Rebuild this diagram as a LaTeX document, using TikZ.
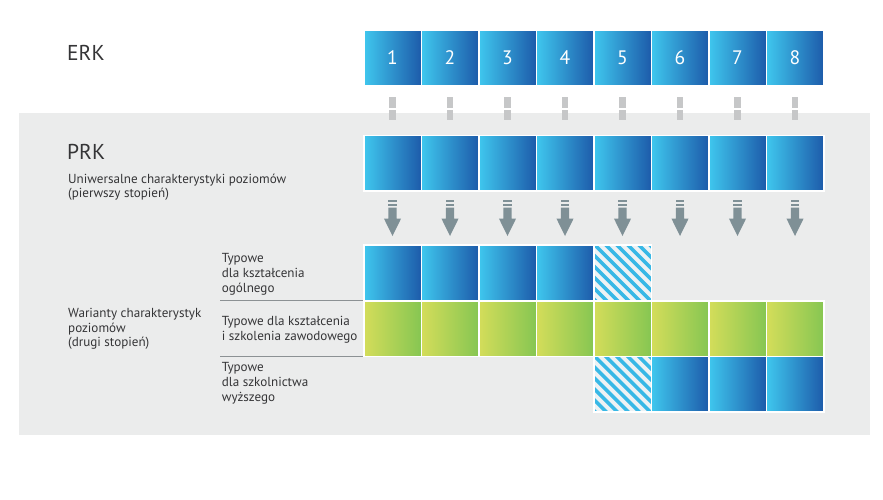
\documentclass[tikz,border=0pt]{standalone}
\usepackage{fontspec}
\setmainfont{PT Sans}
\usetikzlibrary{calc}
\definecolor{bgray}{HTML}{EBECEC}
\definecolor{blueL}{HTML}{3FC7EE}
\definecolor{blueR}{HTML}{1D5BAA}
\definecolor{greenL}{HTML}{D4DD5A}
\definecolor{greenR}{HTML}{86C652}
\definecolor{dashgray}{HTML}{C6C7C8}
\definecolor{arrowgray}{HTML}{7F9096}
\definecolor{txt}{HTML}{353537}
\definecolor{linegray}{HTML}{8C9194}
\definecolor{hatchbg}{HTML}{EEF2F4}
\definecolor{hatchc}{HTML}{38B8E6}
\tikzset{
  lvl/.style={minimum width=57.5pt, minimum height=55.5pt, inner sep=0pt, draw=white, line width=1.5pt},
  bluebox/.style={lvl, left color=blueL, right color=blueR},
  greenbox/.style={lvl, left color=greenL, right color=greenR},
  hatchbox/.style={lvl, fill=hatchbg, path picture={
      \foreach \k in {-7,...,7}{\draw[hatchc, line width=3.6pt] ($(path picture bounding box.center)+(\k*11-40,-40)$) -- ++(80,80);}}},
  num/.style={text=white, font=\fontsize{19.5}{19.5}\selectfont},
  big/.style={anchor=base west, inner sep=0pt, text=txt, font=\fontsize{21.5}{21.5}\selectfont},
  small/.style={anchor=base west, inner sep=0pt, text=txt, font=\fontsize{13.1}{15}\selectfont},
  dashbar/.style={fill=dashgray, draw=none},
  arr/.style={fill=arrowgray, draw=none},
  sep/.style={draw=linegray, line width=1.4pt}
}
\begin{document}
\begin{tikzpicture}[x=1pt, y=-1pt]
\useasboundingbox (0,0) rectangle (883,499);
\fill[bgray] (18.5,113) rectangle (870,435);
\foreach \i in {1,...,8}{
  \node[bluebox, num] (e\i) at ({392.5+57.5*(\i-1)},58) {\i};
  \node[bluebox] (p\i) at ({392.5+57.5*(\i-1)},163) {};
  \node[greenbox] (g\i) at ({392.5+57.5*(\i-1)},328.5) {};
  % dashed link ERK -> PRK
  \fill[dashbar] ($(e\i.south)+(-3.2,10.5)$) rectangle ($(e\i.south)+(3.2,21)$);
  \fill[dashbar] ($(e\i.south)+(-3.2,23)$) rectangle ($(e\i.south)+(3.2,33.5)$);
  % arrow PRK -> variants
  \fill[arr] ($(p\i.south)+(-4.2,8.5)$) rectangle ($(p\i.south)+(4.2,10.8)$);
  \fill[arr] ($(p\i.south)+(-4.2,12.2)$) rectangle ($(p\i.south)+(4.2,14.5)$);
  \fill[arr] ($(p\i.south)+(-4.2,16)$) -- ($(p\i.south)+(4.2,16)$) -- ($(p\i.south)+(4.2,27)$) -- ($(p\i.south)+(8.6,27)$) -- ($(p\i.south)+(0,44.5)$) -- ($(p\i.south)+(-8.6,27)$) -- ($(p\i.south)+(-4.2,27)$) -- cycle;
}
\foreach \i in {1,...,4}{
  \node[bluebox] (a\i) at ({392.5+57.5*(\i-1)},272.7) {};
}
\node[hatchbox] (a5) at (622.5,272.7) {};
\node[hatchbox] (c5) at (622.5,384.2) {};
\foreach \i in {6,7,8}{
  \node[bluebox] (c\i) at ({392.5+57.5*(\i-1)},384.2) {};
}
% separators
\coordinate (s1) at (220,300.5);
\coordinate (s2) at (220,356.2);
\draw[sep] (s1) -- (s1 -| g1.west);
\draw[sep] (s2) -- (s2 -| g1.west);
% texts
\node[big] (erk) at (67,60) {ERK};
\node[big] (prk) at (67,159.3) {PRK};
\node[small] (u1) at (68,183.3) {Uniwersalne charakterystyki poziomów};
\node[small] (u2) at (68,197.5) {(pierwszy stopień)};
\node[small] (w1) at (68,317.3) {Warianty charakterystyk};
\node[small] (w2) at (68,332) {poziomów};
\node[small] (w3) at (68,346.8) {(drugi stopień)};
\node[small] (t1) at (221.7,262.3) {Typowe};
\node[small] (t2) at (221.7,277.3) {dla kształcenia};
\node[small] (t3) at (221.7,292.3) {ogólnego};
\node[small] (v1) at (221.7,325) {Typowe dla kształcenia};
\node[small] (v2) at (221.7,340) {i szkolenia zawodowego};
\node[small] (h1) at (221.7,371.7) {Typowe};
\node[small] (h2) at (221.7,386.7) {dla szkolnictwa};
\node[small] (h3) at (221.7,401.7) {wyższego};
\end{tikzpicture}
\end{document}
